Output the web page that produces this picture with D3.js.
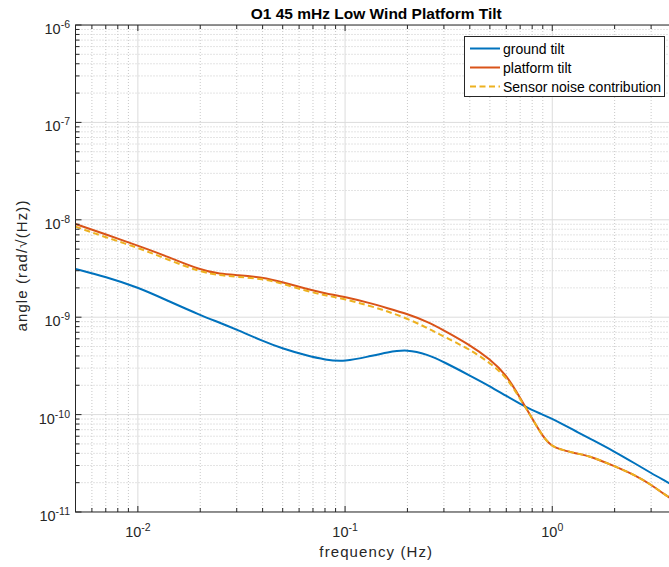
<!DOCTYPE html>
<html><head><meta charset="utf-8">
<script src="https://cdn.jsdelivr.net/npm/d3@7"></script>
<style>body{margin:0;background:#fff}svg{display:block;font-family:"Liberation Sans",Arial,sans-serif}</style>
</head><body><svg id="c" width="669" height="567"></svg>
<script>
const freq = [0.005,0.007,0.01,0.014,0.02,0.025,0.03,0.04,0.05,0.065,0.08,0.1,0.13,0.16,0.2,0.25,0.3,0.4,0.5,0.6,0.7,0.8,0.9,1.0,1.1,1.3,1.5,2,2.5,3,3.5,4];
const groundTilt = [3.13e-9,2.60e-9,2.03e-9,1.47e-9,1.05e-9,8.75e-10,7.45e-10,5.70e-10,4.75e-10,4.05e-10,3.65e-10,3.50e-10,3.95e-10,4.37e-10,4.68e-10,4.14e-10,3.47e-10,2.52e-10,1.96e-10,1.55e-10,1.29e-10,1.11e-10,1.0e-10,9.02e-11,8.13e-11,6.76e-11,5.75e-11,4.17e-11,3.16e-11,2.51e-11,2.09e-11,1.78e-11];
const platformTilt = [9.06e-9,7.08e-9,5.42e-9,4.17e-9,3.05e-9,2.78e-9,2.71e-9,2.57e-9,2.29e-9,1.95e-9,1.76e-9,1.62e-9,1.41e-9,1.24e-9,1.08e-9,8.99e-10,7.33e-10,5.19e-10,3.72e-10,2.57e-10,1.48e-10,9.12e-11,5.93e-11,4.68e-11,4.40e-11,3.98e-11,3.80e-11,2.95e-11,2.40e-11,1.91e-11,1.50e-11,1.26e-11];
const sensorNoise = [8.51e-9,6.61e-9,5.18e-9,3.89e-9,2.92e-9,2.68e-9,2.60e-9,2.48e-9,2.21e-9,1.86e-9,1.68e-9,1.53e-9,1.32e-9,1.15e-9,9.66e-10,7.76e-10,6.31e-10,4.68e-10,3.39e-10,2.45e-10,1.45e-10,9.12e-11,5.93e-11,4.68e-11,4.40e-11,3.98e-11,3.80e-11,2.95e-11,2.40e-11,1.91e-11,1.50e-11,1.26e-11];
const seriesNames = ["ground tilt","platform tilt","Sensor noise contribution"];
const seriesColors = ["#0072BD","#D95319","#EDB120"];
const xTickExps = [-2,-1,0];
const yTickExps = [-11,-10,-9,-8,-7,-6];
const titleText = "O1 45 mHz Low Wind Platform Tilt";
const xLabel = "frequency (Hz)";
const yLabel = "angle (rad/\u221A(Hz))";

const svg = d3.select("#c");
const L=75.5, R=677, T=25, B=512;
const x = d3.scaleLog().domain([0.005,4]).range([L,R]);
const y = d3.scaleLog().domain([1e-11,1e-6]).range([B,T]);
const axisColor="#262626";

svg.append("defs").append("clipPath").attr("id","clip").append("rect").attr("x",L).attr("y",T).attr("width",R-L).attr("height",B-T);

const xMinor=[], yMinor=[];
for(let e=-3;e<=0;e++) for(let m=2;m<=9;m++){const v=m*Math.pow(10,e); if(v>0.005&&v<4) xMinor.push(v);}
for(let e=-11;e<-6;e++) for(let m=2;m<=9;m++){yMinor.push(m*Math.pow(10,e));}
const xMajor = xTickExps.map(e=>Math.pow(10,e));
const yMajor = yTickExps.map(e=>Math.pow(10,e));

const grid = svg.append("g").attr("clip-path","url(#clip)");
grid.selectAll(".xmn").data(xMinor).enter().append("line").attr("x1",d=>x(d)).attr("x2",d=>x(d)).attr("y1",T).attr("y2",B)
  .attr("stroke","#c8c8c8").attr("stroke-width",1).attr("stroke-dasharray","1,2");
grid.selectAll(".ymn").data(yMinor).enter().append("line").attr("y1",d=>y(d)).attr("y2",d=>y(d)).attr("x1",L).attr("x2",R)
  .attr("stroke","#c8c8c8").attr("stroke-width",1).attr("stroke-dasharray","1,2");
grid.selectAll(".xmj").data(xMajor).enter().append("line").attr("x1",d=>x(d)).attr("x2",d=>x(d)).attr("y1",T).attr("y2",B)
  .attr("stroke","#dcdcdc").attr("stroke-width",1);
grid.selectAll(".ymj").data(yMajor).enter().append("line").attr("y1",d=>y(d)).attr("y2",d=>y(d)).attr("x1",L).attr("x2",R)
  .attr("stroke","#dcdcdc").attr("stroke-width",1);

const plot = svg.append("g").attr("clip-path","url(#clip)");
const line = d3.line().x(d=>x(d[0])).y(d=>y(d[1])).curve(d3.curveBasis);
const all = [groundTilt, platformTilt, sensorNoise];
all.forEach((s,i)=>{
  plot.append("path").datum(freq.map((f,j)=>[f,s[j]])).attr("d",line).attr("fill","none")
    .attr("stroke",seriesColors[i]).attr("stroke-width",2)
    .attr("stroke-dasharray", i===2?"6,3.5":null);
});

const ax = svg.append("g");
ax.append("rect").attr("x",L).attr("y",T).attr("width",R-L).attr("height",B-T).attr("fill","none").attr("stroke",axisColor).attr("stroke-width",1);
const tk=(g,data,len,isX)=>{
  data.forEach(v=>{
    if(isX){
      g.append("line").attr("x1",x(v)).attr("x2",x(v)).attr("y1",B).attr("y2",B-len).attr("stroke",axisColor);
      g.append("line").attr("x1",x(v)).attr("x2",x(v)).attr("y1",T).attr("y2",T+len).attr("stroke",axisColor);
    } else {
      g.append("line").attr("y1",y(v)).attr("y2",y(v)).attr("x1",L).attr("x2",L+len).attr("stroke",axisColor);
      g.append("line").attr("y1",y(v)).attr("y2",y(v)).attr("x1",R).attr("x2",R-len).attr("stroke",axisColor);
    }
  });
};
tk(ax,xMajor,6,true); tk(ax,xMinor,4,true); tk(ax,yMajor,6,false); tk(ax,yMinor,4,false);

xTickExps.forEach(e=>{
  const t=svg.append("text").attr("x",x(Math.pow(10,e))).attr("y",537).attr("text-anchor","middle").attr("font-size",14.5).attr("fill",axisColor);
  t.append("tspan").text("10");
  t.append("tspan").attr("dy",-6).attr("font-size",10.5).text(String(e));
});
yTickExps.forEach(e=>{
  const t=svg.append("text").attr("x",70).attr("y",y(Math.pow(10,e))+9).attr("text-anchor","end").attr("font-size",14.5).attr("fill",axisColor);
  t.append("tspan").text("10");
  t.append("tspan").attr("dy",-6).attr("font-size",10.5).text(String(e));
});

svg.append("text").attr("x",(L+R)/2).attr("y",19).attr("text-anchor","middle").attr("font-size",15.5).attr("font-weight","bold").attr("fill","#000").text(titleText);
svg.append("text").attr("x",(L+R)/2).attr("y",557).attr("text-anchor","middle").attr("font-size",15).attr("letter-spacing",1.1).attr("fill",axisColor).text(xLabel);
svg.append("text").attr("transform",`translate(27,${(T+B)/2-3}) rotate(-90)`).attr("text-anchor","middle").attr("font-size",15).attr("letter-spacing",1.1).attr("fill",axisColor).text(yLabel);

const lg = svg.append("g");
lg.append("rect").attr("x",464.5).attr("y",36.5).attr("width",200).attr("height",60).attr("fill","#fff").attr("stroke",axisColor).attr("stroke-width",1);
seriesNames.forEach((n,i)=>{
  const yy = 48.5 + i*19;
  lg.append("line").attr("x1",470).attr("x2",500).attr("y1",yy).attr("y2",yy).attr("stroke",seriesColors[i]).attr("stroke-width",2)
    .attr("stroke-dasharray", i===2?"6,3.5":null);
  lg.append("text").attr("x",503).attr("y",yy+5).attr("font-size",14).attr("fill","#000").text(n);
});
</script></body></html>
